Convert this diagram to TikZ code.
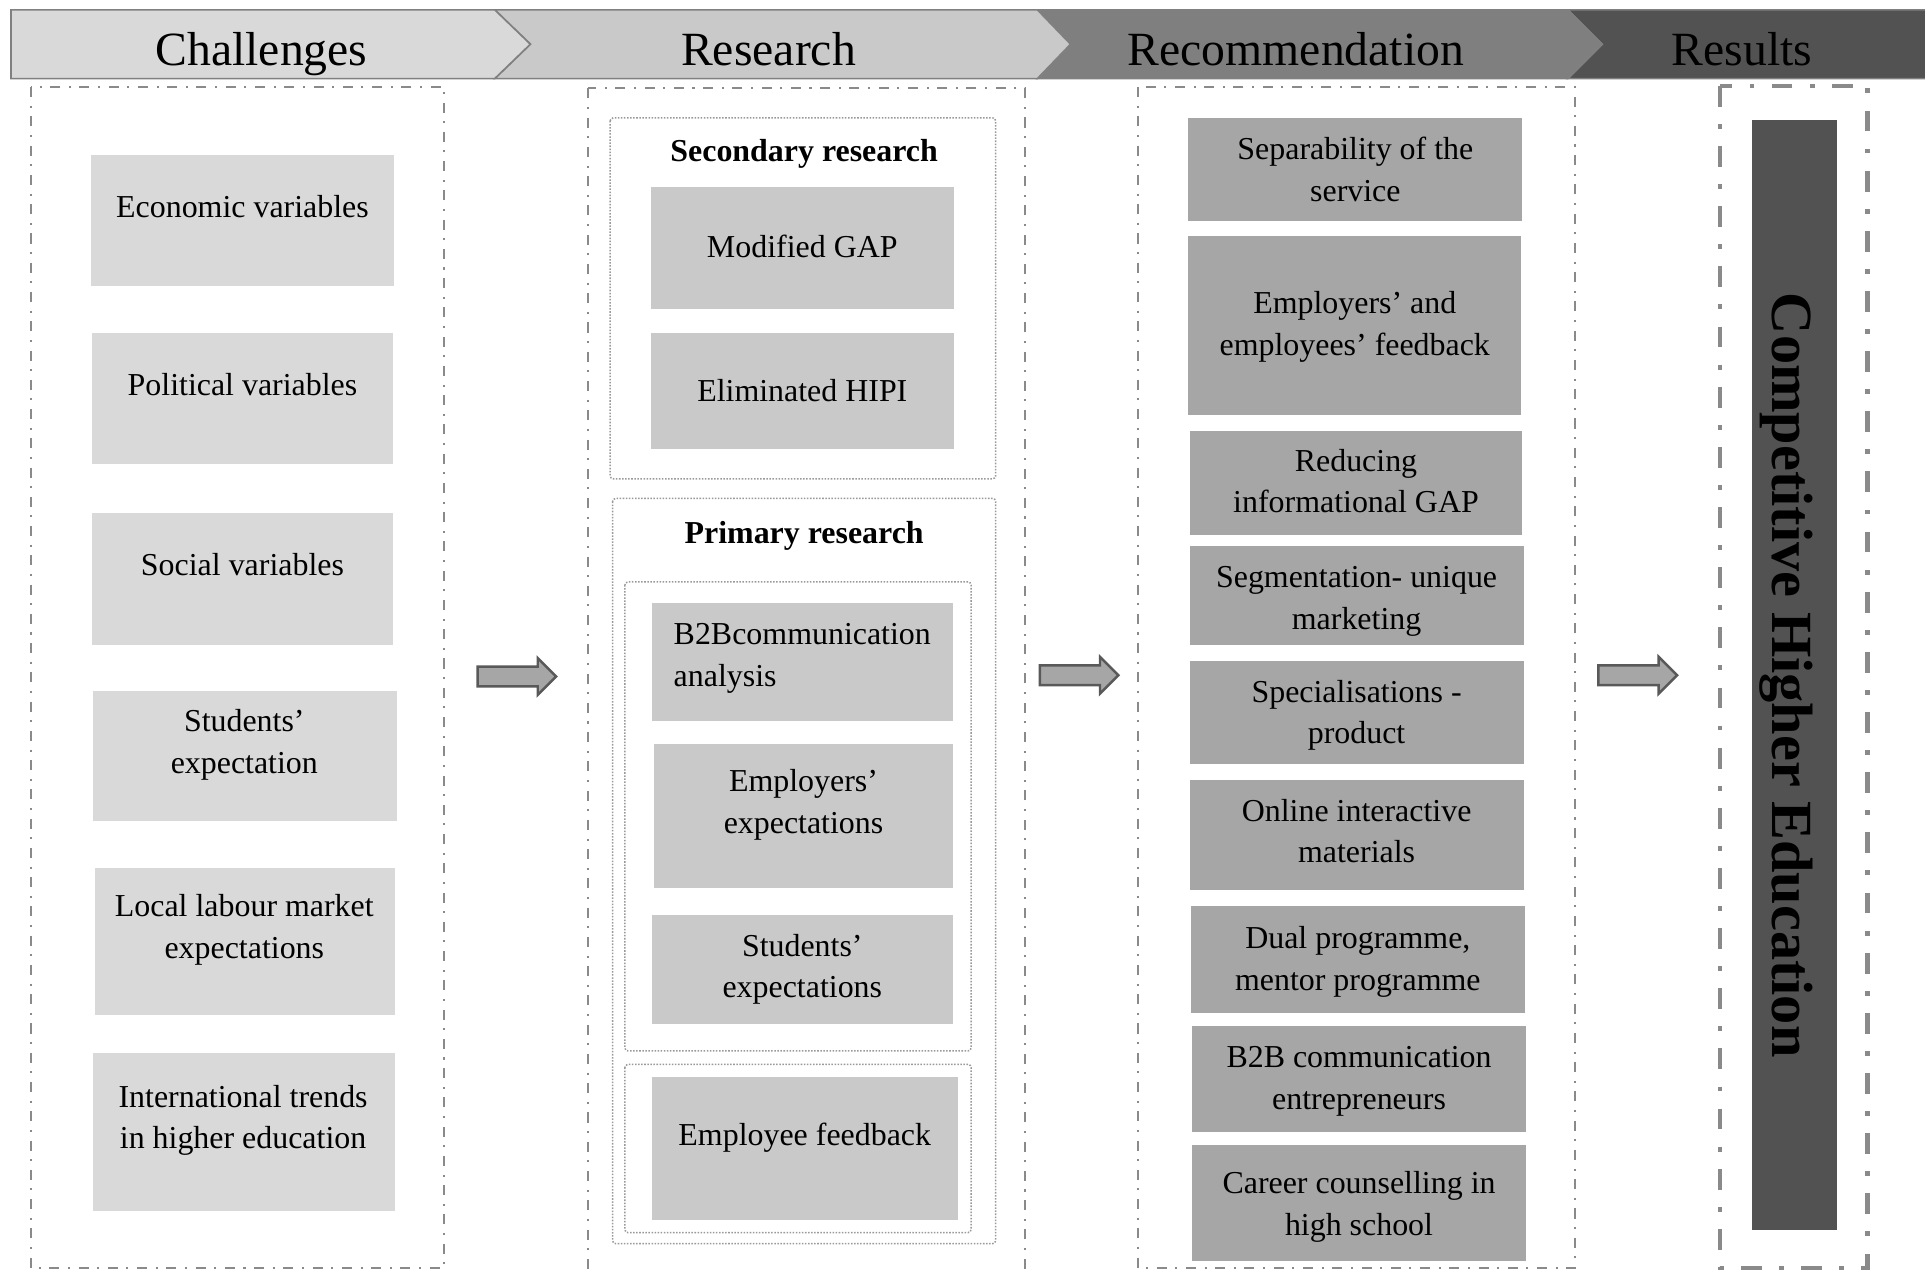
\documentclass[tikz,border=0pt]{standalone}
\usepackage{fontspec}
\setmainfont{Liberation Serif}
\definecolor{cA}{HTML}{D9D9D9}
\definecolor{cB}{HTML}{C9C9C9}
\definecolor{cC}{HTML}{A6A6A6}
\definecolor{cD}{HTML}{7F7F7F}
\definecolor{cE}{HTML}{525252}
\definecolor{hline}{HTML}{808080}
\definecolor{fgray}{HTML}{8A8A8A}
\definecolor{dgray}{HTML}{999999}
\definecolor{agray}{HTML}{595959}
\newcommand\DrawBox[6]{\path[#1] (#3) rectangle (#4); \node[btext] (#2) at (#5) {#6};}
\begin{document}
\begin{tikzpicture}[x=0.6pt,y=-0.6pt,
 hdseg/.style={draw=hline,line width=0.8pt},
 hdtext/.style={font=\fontsize{23.3}{28}\selectfont,anchor=base,inner sep=0pt},
 frameA/.style={draw=fgray,line width=1pt,dash pattern=on 4.9pt off 4.2pt on 1pt off 4.2pt},
 frameB/.style={draw=fgray,line width=2.2pt,dash pattern=on 10.2pt off 8.4pt on 2.4pt off 8.4pt},
 dotbox/.style={draw=dgray,line width=0.75pt,dash pattern=on 0.75pt off 0.75pt,rounded corners=1.5pt},
 boxA/.style={fill=cA}, boxB/.style={fill=cB}, boxC/.style={fill=cC},
 btext/.style={font=\fontsize{15.6}{20.4}\selectfont,align=center,inner sep=0pt,text height=10.6pt,text depth=0pt},
 ttext/.style={btext,font=\fontsize{15.6}{20.4}\selectfont\bfseries},
 blockarrow/.style={fill=cC,draw=agray,line width=1.2pt,line join=miter},
 vtext/.style={font=\fontsize{28.5}{34}\selectfont\bfseries,rotate=-90,anchor=base,inner sep=0pt}
]
\useasboundingbox (0,0) rectangle (1568,1035);
% header band
\path[hdseg, fill=cE] (1277,8) -- (1569,8) -- (1569,64) -- (1277,64) -- (1305,36) -- cycle;
\path[hdseg, fill=cD] (845,8) -- (1277,8) -- (1305,36) -- (1277,64) -- (845,64) -- (872,36) -- cycle;
\path[hdseg, fill=cB] (403,8) -- (845,8) -- (872,36) -- (845,64) -- (403,64) -- (432,36) -- cycle;
\path[hdseg, fill=cA] (9,8) -- (403,8) -- (432,36) -- (403,64) -- (9,64) -- cycle;
\begin{scope}
\clip (9,9) rectangle (1568,63);
\node[hdtext] (h1) at (213,53) {Challenges};
\node[hdtext] (h2) at (626,53) {Research};
\node[hdtext] (h3) at (1055.5,53) {Recommendation};
\node[hdtext] (h4) at (1419,53) {Results};
\end{scope}
% column frames
\draw[frameA] (25,71) rectangle (362,1033);
\draw[frameA] (479,72) rectangle (835,1042);
\draw[frameA] (927,71) rectangle (1283,1033);
\draw[frameB] (1401,70) rectangle (1521,1033);
% column 1
\DrawBox{boxA}{c1}{74,126}{321,233}{197.5,168}{Economic variables}
\DrawBox{boxA}{c2}{75,271}{320,378}{197.5,313}{Political variables}
\DrawBox{boxA}{c3}{75,418}{320,525}{197.5,460}{Social variables}
\DrawBox{boxA}{c4}{76,563}{323,669}{199,621}{Students’\\expectation}
\DrawBox{boxA}{c5}{77,707}{322,827}{199,772}{Local labour market\\expectations}
\DrawBox{boxA}{c6}{76,858}{322,986}{198,927}{International trends\\in higher education}
% column 2
\draw[dotbox] (497,96) rectangle (811,390);
\node[ttext] (sec) at (655,123) {Secondary research};
\DrawBox{boxB}{r1}{530,152}{777,252}{653.5,201}{Modified GAP}
\DrawBox{boxB}{r2}{530,271}{777,366}{653.5,318}{Eliminated HIPI}
\draw[dotbox] (499,406) rectangle (811,1013);
\node[ttext] (prim) at (655,434) {Primary research};
\draw[dotbox] (509,474) rectangle (791,856);
\path[boxB] (531,491) rectangle (776,587);
\node[btext,align=left] (r3) at (653.5,550.5) {B2Bcommunication\\analysis};
\DrawBox{boxB}{r4}{533,606}{776,723}{654.5,670}{Employers’\\expectations}
\DrawBox{boxB}{r5}{531,745}{776,834}{653.5,804}{Students’\\expectations}
\draw[dotbox] (509,867) rectangle (791,1004);
\DrawBox{boxB}{r6}{531,877}{780,994}{655.5,924}{Employee feedback}
% column 3
\DrawBox{boxC}{m1}{968,96}{1240,180}{1104,155}{Separability of the\\service}
\DrawBox{boxC}{m2}{968,192}{1239,338}{1103.5,280.5}{Employers’ and\\employees’ feedback}
\DrawBox{boxC}{m3}{969,351}{1240,436}{1104.5,409}{Reducing\\informational GAP}
\DrawBox{boxC}{m4}{969,445}{1241,525}{1105,504}{Segmentation- unique\\marketing}
\DrawBox{boxC}{m5}{969,538}{1241,622}{1105,597}{Specialisations -\\product}
\DrawBox{boxC}{m6}{969,635}{1241,725}{1105,694}{Online interactive\\materials}
\DrawBox{boxC}{m7}{970,738}{1242,825}{1106,798}{Dual programme,\\mentor programme}
\DrawBox{boxC}{m8}{971,836}{1243,922}{1107,895}{B2B communication\\entrepreneurs}
\DrawBox{boxC}{m9}{971,933}{1243,1027}{1107,997.5}{Career counselling in\\high school}
% column 4
\path[fill=cE] (1427,98) rectangle (1496,1002);
\node[vtext] (res) at (1444,550) {Competitive Higher Education};
% block arrows
\draw[blockarrow] (389,543) -- (438,543) -- (438,536) -- (453,551) -- (438,566) -- (438,559) -- (389,559) -- cycle;
\draw[blockarrow] (847,542) -- (896,542) -- (896,535) -- (911,550) -- (896,565) -- (896,558) -- (847,558) -- cycle;
\draw[blockarrow] (1302,542) -- (1351,542) -- (1351,535) -- (1366,550) -- (1351,565) -- (1351,558) -- (1302,558) -- cycle;
\end{tikzpicture}
\end{document}
